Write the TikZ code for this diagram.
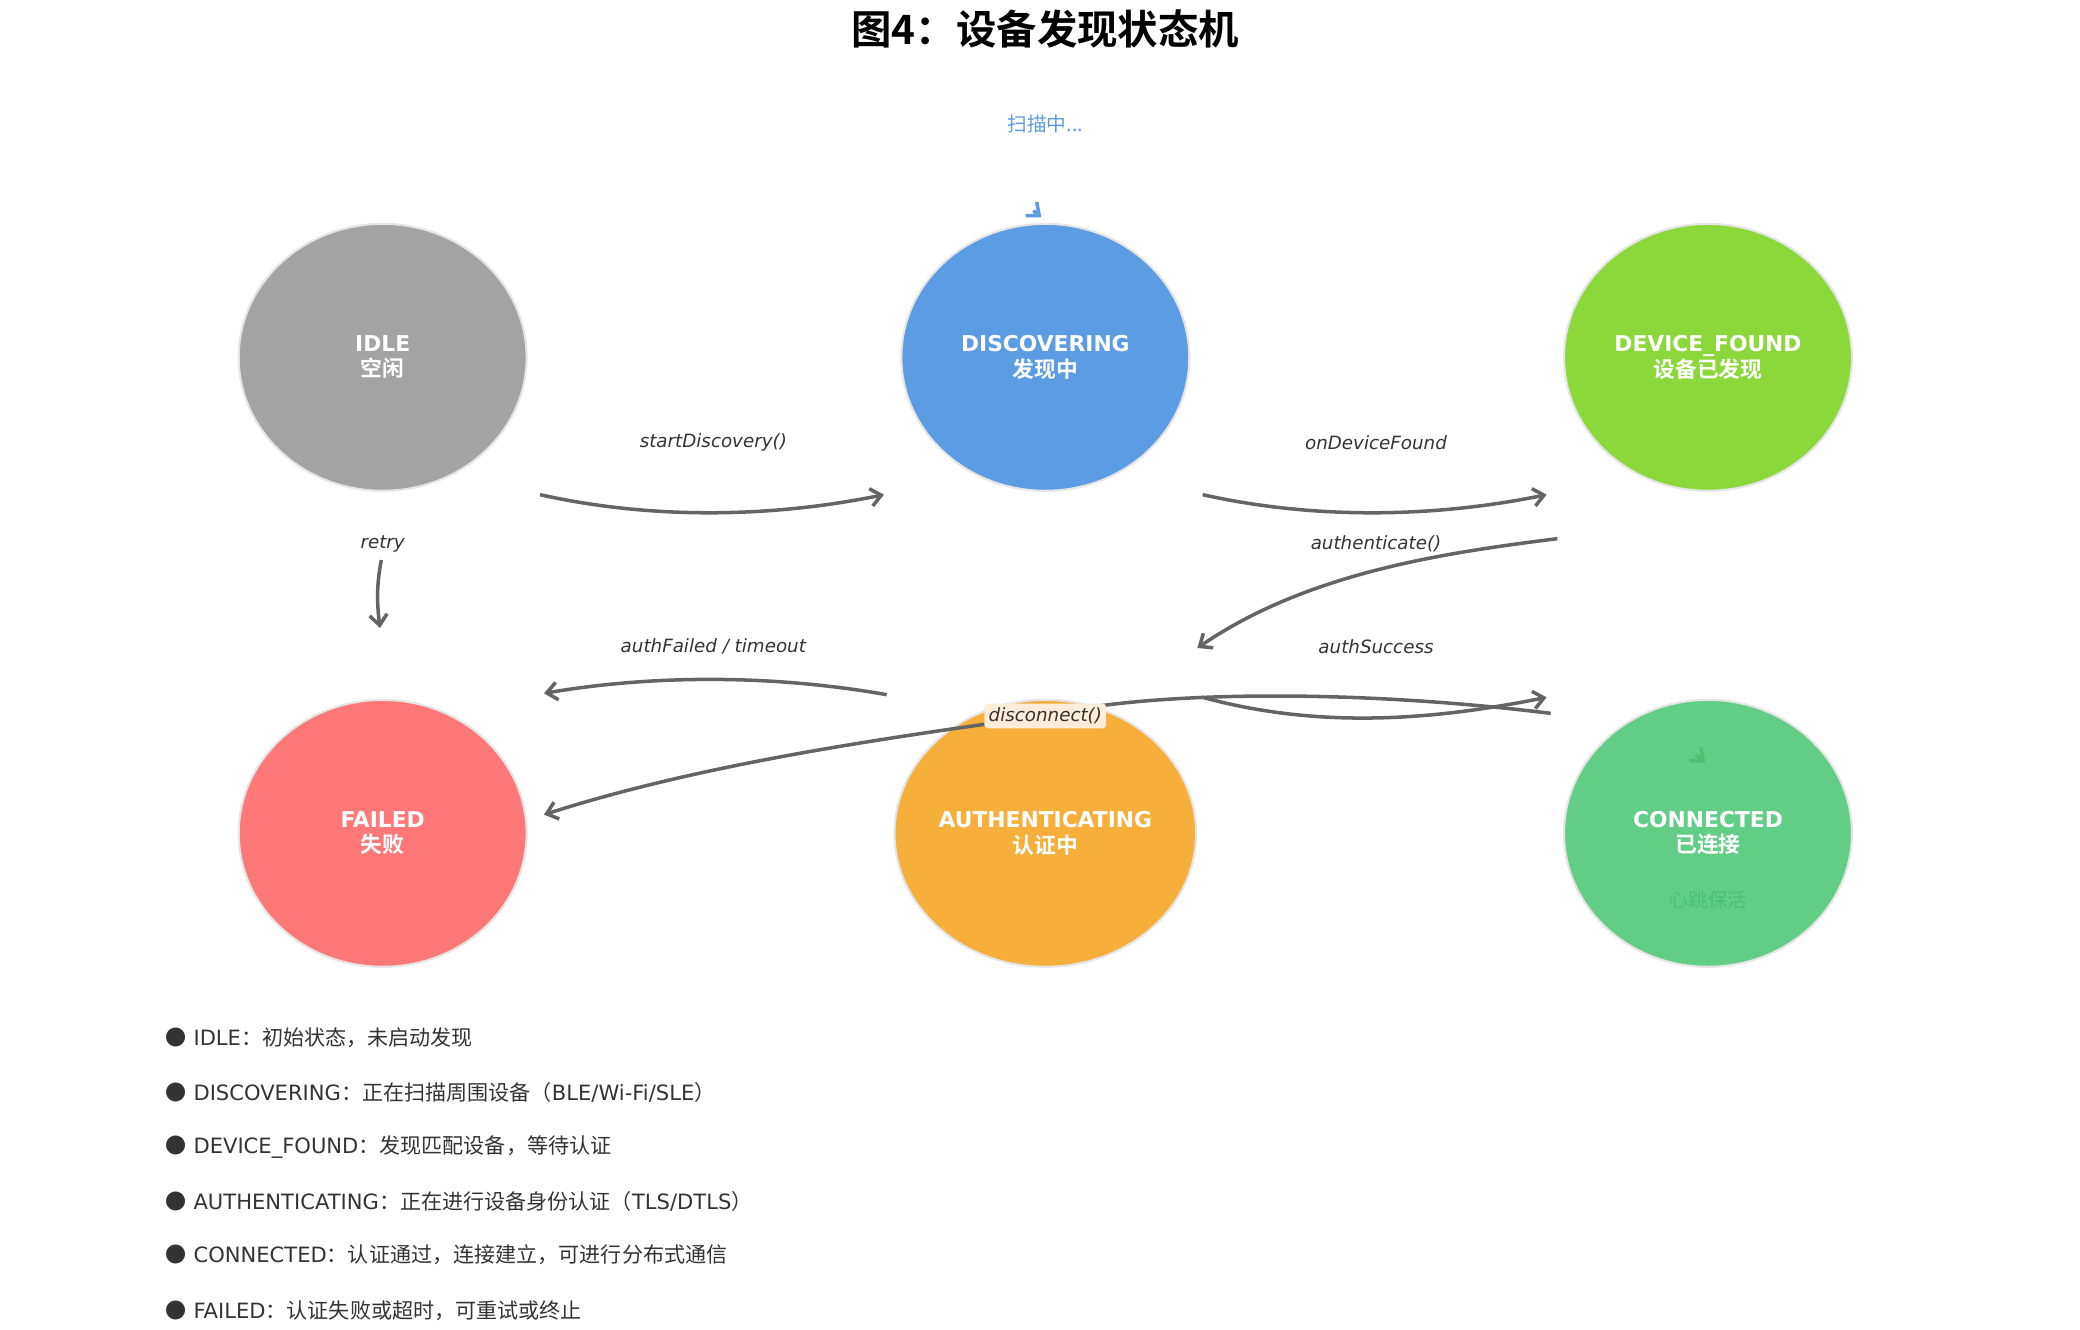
\documentclass[tikz,border=0pt]{standalone}
\usepackage{fontspec}
\setmainfont{DejaVu Sans}
\newfontfamily\cjk{Noto Sans CJK SC}[BoldFont={Noto Sans CJK SC Bold}]
\usetikzlibrary{arrows.meta, positioning, shapes.geometric}
\definecolor{idlegray}{HTML}{A3A3A3}
\definecolor{discblue}{HTML}{5C9CE3}
\definecolor{foundgreen}{HTML}{8AD83A}
\definecolor{failred}{HTML}{FF7878}
\definecolor{authorange}{HTML}{F5AF3A}
\definecolor{conngreen}{HTML}{62CD85}
\definecolor{beatgreen}{HTML}{4FBF74}
\definecolor{edgegray}{HTML}{646464}
\definecolor{txtgray}{HTML}{333333}
\tikzset{
    state/.style={ellipse, draw=white!90!black, line width=0.6pt,
      fill=#1, text=white, align=center, font=\bfseries\fontsize{6.2}{7.2}\selectfont,
      inner sep=0pt, minimum width=2.88cm, minimum height=2.67cm},
    trans/.style={draw=edgegray, line width=1pt, -{Straight Barb[length=3pt,width=5pt]}},
    lbl/.style={font=\itshape\fontsize{5.2}{6}\selectfont, text=txtgray},
    legend/.style={anchor=west, text=txtgray, font=\fontsize{6}{7}\selectfont}
}
\newcommand{\zh}[1]{{\cjk #1}}
\begin{document}
\begin{tikzpicture}[x=0.01333cm, y=-0.01333cm]
  \useasboundingbox (0,0) rectangle (1560,997);
  % title
  \node (title) at (784,22) {\fontsize{11.5}{13}\selectfont\cjk\bfseries 图4：设备发现状态机};
  % states
  \node [state=idlegray] (idle) at (287,268) {IDLE\\\zh{\bfseries 空闲}};
  \node [state=discblue] (disc) at (784,268) {DISCOVERING\\\zh{\bfseries 发现中}};
  \node [state=foundgreen] (found) at (1281,268) {DEVICE\_FOUND\\\zh{\bfseries 设备已发现}};
  \node [state=failred] (failed) at (287,625) {FAILED\\\zh{\bfseries 失败}};
  \node [state=authorange] (auth) at (784,625) {AUTHENTICATING\\\zh{\bfseries 认证中}};
  \node [state=conngreen] (conn) at (1281,625) {CONNECTED\\\zh{\bfseries 已连接}};
  % end points of the transitions
  \coordinate (a1) at (405,371);  \coordinate (a2) at (663,371);
  \coordinate (b1) at (902,371);  \coordinate (b2) at (1160,371);
  \coordinate (c1) at (1168,404); \coordinate (c2) at (898,486);
  \coordinate (d1) at (902,523);  \coordinate (d2) at (1160,523);
  \coordinate (e1) at (665,521);  \coordinate (e2) at (408,520);
  \coordinate (f1) at (1163,535); \coordinate (f2) at (408,611);
  \coordinate (g1) at (286,420);  \coordinate (g2) at (285,471);
  % transitions
  \draw [trans] (a1) .. controls (490,390) and (580,388) .. (a2);
  \draw [trans] (b1) .. controls (987,390) and (1077,388) .. (b2);
  \draw [trans] (c1) .. controls (1080,415) and (980,430) .. (c2);
  \draw [trans] (e1) .. controls (580,506) and (490,506) .. (e2);
  \draw [trans] (g1) .. controls (282,440) and (283,455) .. (g2);
  \draw [trans] (f1) .. controls (1000,515) and (850,520) .. (784,537) .. controls (650,555) and (520,575) .. (f2);
  \draw [trans] (d1) .. controls (990,547) and (1075,540) .. (d2);
  % self loops
  \draw [draw=discblue, line width=1pt, -{Straight Barb[length=3pt,width=5pt]}] (775,158) -- (781,163);
  \draw [draw=beatgreen, line width=1pt, -{Straight Barb[length=3pt,width=5pt]}] (1272,566) -- (1279,572);
  % labels
  \node [lbl] (la) at (535,332) {startDiscovery()};
  \node [lbl] (lb) at (1032,332) {onDeviceFound};
  \node [lbl] (lc) at (1032,408) {authenticate()};
  \node [lbl] (ld) at (1032,485) {authSuccess};
  \node [lbl] (le) at (535,485) {authFailed / timeout};
  \node [lbl] (lg) at (287,408) {retry};
  \node [lbl, fill=orange!15!white, rounded corners=1pt, inner sep=1.2pt] (lf) at (784,537) {disconnect()};
  \node [font=\cjk\fontsize{5.6}{6}\selectfont, text=discblue] (lscan) at (784,93) {扫描中...};
  \node [font=\cjk\fontsize{5.6}{6}\selectfont, text=beatgreen] (lbeat) at (1281,675) {心跳保活};
  % legend
  \node [legend] (k1) at (115,778) {\zh{●} IDLE\zh{：初始状态，未启动发现}};
  \node [legend] (k2) at (115,819) {\zh{●} DISCOVERING\zh{：正在扫描周围设备（}BLE/Wi-Fi/SLE\zh{）}};
  \node [legend] (k3) at (115,860) {\zh{●} DEVICE\_FOUND\zh{：发现匹配设备，等待认证}};
  \node [legend] (k4) at (115,901) {\zh{●} AUTHENTICATING\zh{：正在进行设备身份认证（}TLS/DTLS\zh{）}};
  \node [legend] (k5) at (115,941) {\zh{●} CONNECTED\zh{：认证通过，连接建立，可进行分布式通信}};
  \node [legend] (k6) at (115,983) {\zh{●} FAILED\zh{：认证失败或超时，可重试或终止}};
\end{tikzpicture}
\end{document}
